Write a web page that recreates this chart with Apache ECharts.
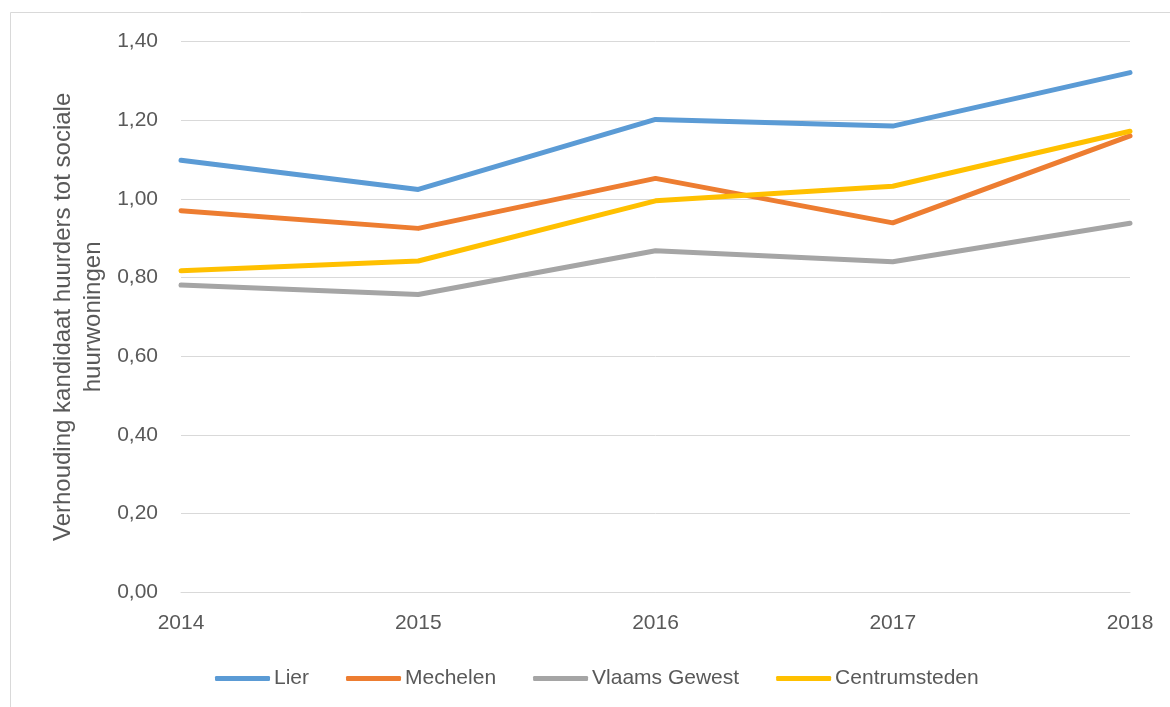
<!DOCTYPE html>
<html>
<head>
<meta charset="utf-8">
<script src="https://cdn.jsdelivr.net/npm/echarts@6/dist/echarts.min.js"></script>
<style>
  html, body { margin: 0; padding: 0; background: #fff; }
  #chart { width: 1170px; height: 707px; }
</style>
</head>
<body>
<div id="chart"></div>
<script>
// Data
const years = ["2014", "2015", "2016", "2017", "2018"];
const lier = [1.098, 1.024, 1.202, 1.185, 1.321];
const mechelen = [0.970, 0.925, 1.052, 0.939, 1.160];
const vlaamsGewest = [0.781, 0.757, 0.868, 0.840, 0.938];
const centrumsteden = [0.817, 0.842, 0.995, 1.032, 1.172];

const textColor = "#595959";
const gridColor = "#d9d9d9";
const font = "'Liberation Sans', Arial, sans-serif";

function makeSeries(name, data, color) {
  return {
    name: name,
    type: "line",
    data: data,
    symbol: "none",
    lineStyle: { width: 5, color: color, cap: "round", join: "round" },
    itemStyle: { color: color },
  };
}

var dom = document.getElementById("chart");
var myChart = echarts.init(dom, null, { renderer: "canvas" });

var option = {
  animation: false,
  backgroundColor: "#fff",
  textStyle: { fontFamily: font },
  graphic: [
    {
      type: "rect",
      shape: { x: 10.5, y: 12.5, width: 1200, height: 720 },
      style: { fill: "none", stroke: gridColor, lineWidth: 1 },
      silent: true,
    },
  ],
  grid: { left: 181, right: 40, top: 41.5, bottom: 114.7 },
  xAxis: {
    type: "category",
    data: years,
    boundaryGap: false,
    axisLine: { lineStyle: { color: gridColor, width: 1 } },
    axisTick: { show: false },
    axisLabel: { color: textColor, fontSize: 21, margin: 20, fontFamily: font },
  },
  yAxis: {
    type: "value",
    min: 0,
    max: 1.4,
    interval: 0.2,
    name: "Verhouding kandidaat huurders tot sociale\nhuurwoningen",
    nameLocation: "middle",
    nameGap: 73,
    nameMoveOverlap: false,
    nameTextStyle: { color: textColor, fontSize: 24, lineHeight: 30, fontFamily: font },
    axisLine: { show: false },
    axisTick: { show: false },
    splitLine: { lineStyle: { color: gridColor, width: 1 } },
    axisLabel: {
      color: textColor,
      fontSize: 21,
      margin: 23,
      fontFamily: font,
      formatter: function (v) { return v.toFixed(2).replace(".", ","); },
    },
  },
  legend: {
    left: 210,
    top: 663,
    icon: "roundRect",
    itemWidth: 55,
    itemHeight: 5,
    itemGap: 37,
    textStyle: { color: textColor, fontSize: 21, padding: [0, 0, 0, -1], fontFamily: font },
    data: ["Lier", "Mechelen", "Vlaams Gewest", "Centrumsteden"],
  },
  series: [
    makeSeries("Lier", lier, "#5B9BD5"),
    makeSeries("Mechelen", mechelen, "#ED7D31"),
    makeSeries("Vlaams Gewest", vlaamsGewest, "#A5A5A5"),
    makeSeries("Centrumsteden", centrumsteden, "#FFC000"),
  ],
};

myChart.setOption(option);
window.addEventListener("resize", myChart.resize);
</script>
</body>
</html>
